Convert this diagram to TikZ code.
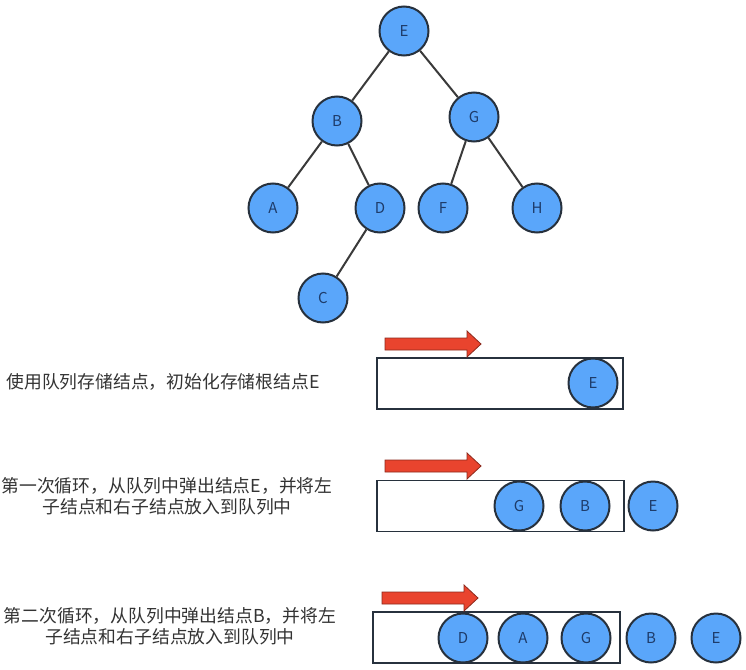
\documentclass[tikz,border=0pt]{standalone}
\usepackage{fontspec}
\usepackage{tikz}
\usetikzlibrary{positioning}
\newfontfamily\cjk{Noto Sans CJK SC}
\definecolor{nodeblue}{HTML}{5AA6FA}
\definecolor{nodeline}{HTML}{27313D}
\definecolor{letterblue}{HTML}{1E3C6A}
\definecolor{edgegray}{HTML}{3A3A3A}
\definecolor{textgray}{HTML}{333333}
\definecolor{arrowred}{HTML}{E9442E}
\newcommand{\pusharrow}[2]{%
  \draw[pushstyle] (#1,#2-6) -- ++(82,0) -- ++(0,-7) -- ++(14,13) -- ++(-14,13) -- ++(0,-7) -- ++(-82,0) -- cycle;}

\begin{document}
\begin{tikzpicture}[x=1pt,y=-1pt]
		\tikzstyle{tnode}=[circle, draw=nodeline, line width=2pt, fill=nodeblue, minimum size=49pt, inner sep=0pt, text=letterblue, font=\cjk\fontsize{15}{15}\selectfont]
		\tikzstyle{queuebox}=[draw=nodeline, line width=1.6pt, minimum height=51pt, inner sep=0pt]
		\tikzstyle{caption}=[text=textgray, align=center, inner sep=0pt, font=\cjk\fontsize{17.8}{21}\selectfont]
		\tikzstyle{pushstyle}=[fill=arrowred, draw=arrowred!60!black, line width=0.8pt, line join=miter]

		\useasboundingbox (0,0) rectangle (746,669);

		% the tree
		\node[tnode] (E) at (404, 31) {E};
		\node[tnode] (B) at (337, 121) {B};
		\node[tnode] (G) at (474, 117) {G};
		\node[tnode] (A) at (273, 208) {A};
		\node[tnode] (D) at (380, 208) {D};
		\node[tnode] (F) at (443, 208) {F};
		\node[tnode] (H) at (537, 208) {H};
		\node[tnode] (C) at (323, 298) {C};

		\path[draw=edgegray, line width=2pt]
			(E) edge (B)
			(E) edge (G)
			(B) edge (A)
			(B) edge (D)
			(D) edge (C)
			(G) edge (F)
			(G) edge (H);

		% step 1
		\node[caption] (cap1) at (163, 382) {使用队列存储结点，初始化存储根结点E};
		\node[queuebox, minimum width=246pt] (q1) at (500, 383.5) {};
		\pusharrow{385}{344}
		\node[tnode] (q1E) at (593, 383) {E};

		% step 2
		\node[caption] (cap2) at (167, 496) {第一次循环，从队列中弹出结点E，并将左\\子结点和右子结点放入到队列中};
		\node[queuebox, minimum width=247pt] (q2) at (500.5, 506) {};
		\pusharrow{385}{466}
		\node[tnode] (q2G) at (519, 506) {G};
		\node[tnode] (q2B) at (585, 506) {B};
		\node[tnode] (q2E) at (653, 506) {E};

		% step 3
		\node[caption] (cap3) at (170, 626) {第二次循环，从队列中弹出结点B，并将左\\子结点和右子结点放入到队列中};
		\node[queuebox, minimum width=247pt] (q3) at (496.5, 637.5) {};
		\pusharrow{382}{598}
		\node[tnode] (q3D) at (463, 638) {D};
		\node[tnode] (q3A) at (523, 638) {A};
		\node[tnode] (q3G) at (586, 638) {G};
		\node[tnode] (q3B) at (651, 638) {B};
		\node[tnode] (q3E) at (716, 638) {E};
	\end{tikzpicture}
\end{document}
